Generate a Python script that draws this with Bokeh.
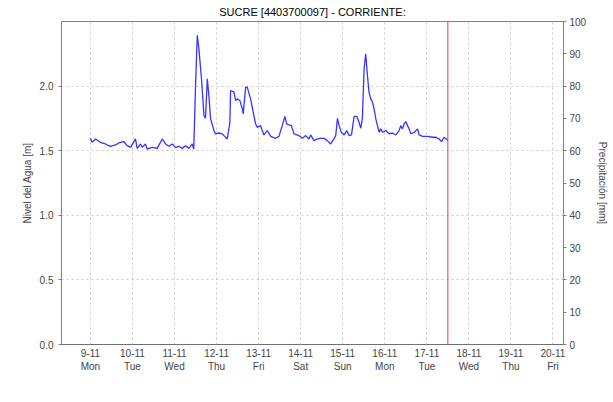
from bokeh.plotting import figure
from bokeh.models import (Range1d, LinearAxis, FixedTicker, Span, Legend,
                          LegendItem, ColumnDataSource)
from bokeh.embed import file_html
from bokeh.resources import INLINE

# ---------------- data ----------------
# hours since 2020-11-09 00:00
sensor_hours = [0, 0.95, 2.9, 3.8, 5.7, 8.6, 11.4, 14.3, 16.2, 19.0, 21.0, 22.9,
                25.7, 26.7, 28.6, 29.5, 31.4, 32.4, 35.2, 38.1, 41.0, 42.9, 44.8,
                46.7, 48.6, 50.5, 52.4, 54.3, 56.2, 58.1, 59.0, 60.0, 61.0, 61.9,
                62.9, 63.4, 64.8, 65.7, 66.7, 67.6, 68.6, 70.5, 71.4, 73.3, 75.2,
                76.2, 78.1, 79.6, 80.0, 81.9, 82.9, 83.8, 85.3, 86.7, 87.2, 88.6,
                89.5, 91.4, 93.3, 94.3, 95.2, 97.1, 99.0, 101.0, 102.9, 105.7,
                107.6, 109.5, 111.0, 112.0, 113.3, 114.7, 116.2, 119.0, 121.0,
                122.9, 124.8, 125.7, 127.6, 129.5, 131.4, 133.3, 135.2, 137.1,
                139.0, 140.0, 141.0, 141.9, 143.2, 144.8, 146.3, 147.6, 149.0,
                150.5, 152.0, 153.3, 154.3, 155.2, 156.2, 157.1, 158.1, 159.0,
                160.0, 161.0, 161.9, 162.9, 163.8, 164.8, 165.7, 166.7, 168.6,
                170.5, 172.4, 174.3, 176.2, 177.1, 178.1, 179.0, 180.0, 181.0,
                181.9, 182.9, 184.8, 186.7, 187.6, 189.5, 192.4, 195.2, 197.1,
                199.0, 200.4, 201.9, 203.4, 204.0]
sensor_level = [1.596, 1.565, 1.591, 1.583, 1.565, 1.552, 1.534, 1.545, 1.560,
                1.571, 1.539, 1.526, 1.591, 1.518, 1.552, 1.526, 1.552, 1.513,
                1.526, 1.518, 1.591, 1.552, 1.534, 1.552, 1.526, 1.534, 1.518,
                1.539, 1.518, 1.552, 1.513, 2.005, 2.393, 2.290, 2.134, 2.057,
                1.772, 1.751, 2.057, 1.927, 1.746, 1.656, 1.630, 1.637, 1.630,
                1.617, 1.591, 1.720, 1.966, 1.953, 1.888, 1.901, 1.888, 1.824,
                1.785, 1.992, 1.992, 1.901, 1.772, 1.707, 1.681, 1.694, 1.622,
                1.656, 1.611, 1.596, 1.611, 1.694, 1.766, 1.707, 1.699, 1.694,
                1.630, 1.617, 1.596, 1.617, 1.591, 1.622, 1.578, 1.591, 1.596,
                1.596, 1.578, 1.552, 1.591, 1.617, 1.751, 1.694, 1.643, 1.622,
                1.656, 1.617, 1.622, 1.766, 1.766, 1.720, 1.674, 1.746, 2.134,
                2.250, 2.083, 1.953, 1.901, 1.876, 1.824, 1.746, 1.694, 1.643,
                1.669, 1.643, 1.656, 1.630, 1.637, 1.622, 1.656, 1.694, 1.669,
                1.707, 1.725, 1.694, 1.669, 1.630, 1.643, 1.669, 1.622, 1.611,
                1.611, 1.604, 1.604, 1.591, 1.570, 1.604, 1.586, 1.578]

historic_hours = [-16.5, 270.0]
historic_level = [0.0, 0.0]

# daily precipitation (all zero in the period shown)
precip_obs_hours = [0, 24, 48, 72, 96, 120, 144, 168, 192]
precip_obs_mm = [0, 0, 0, 0, 0, 0, 0, 0, 0]
precip_pro_hours = [216, 240, 264]
precip_pro_mm = [0, 0, 0]

now_hour = 204.0

tick_dates = ["9-11", "10-11", "11-11", "12-11", "13-11", "14-11", "15-11",
              "16-11", "17-11", "18-11", "19-11", "20-11"]
tick_days = ["Mon", "Tue", "Wed", "Thu", "Fri", "Sat", "Sun", "Mon", "Tue",
             "Wed", "Thu", "Fri"]
tick_hours = [24 * i for i in range(len(tick_dates))]

FONT = "Liberation Sans"

p = figure(frame_width=502, frame_height=323, output_backend="svg",
           toolbar_location=None,
           x_range=Range1d(-16.5, 270.0), y_range=Range1d(0, 2.5),
           min_border_left=61, min_border_right=50, min_border_top=0,
           min_border_bottom=0)
p.extra_y_ranges = {"precip": Range1d(0, 100)}

p.title.text = "SUCRE [4403700097] - CORRIENTE:"
p.title.align = "center"
p.title.text_font = FONT
p.title.text_font_size = "11px"
p.title.text_font_style = "normal"
p.title.text_color = "#000000"
p.title.offset = 0
p.title.standoff = 7

p.outline_line_color = "#808080"
p.outline_line_width = 1

# axes
xa = p.xaxis[0]
xa.ticker = FixedTicker(ticks=tick_hours)
xa.major_label_overrides = {h: f"{d}\n{w}" for h, d, w in zip(tick_hours, tick_dates, tick_days)}
xa.axis_label = None
xa.axis_label_standoff = 0
xa.major_tick_line_color = None
xa.major_tick_out = 0
xa.major_tick_in = 0
xa.minor_tick_line_color = None
xa.axis_line_color = None
xa.major_label_text_font = FONT
xa.major_label_text_font_size = "10px"
xa.major_label_standoff = 3

ya = p.yaxis[0]
ya.ticker = FixedTicker(ticks=[0, 0.5, 1.0, 1.5, 2.0])
ya.major_label_overrides = {0: "0.0", 0.5: "0.5", 1.0: "1.0", 1.5: "1.5", 2.0: "2.0"}
ya.axis_label = "Nivel del Agua [m]"
ya.axis_label_text_font = FONT
ya.axis_label_text_font_size = "10px"
ya.axis_label_text_font_style = "normal"
ya.axis_label_standoff = 4
ya.major_label_text_font = FONT
ya.major_label_text_font_size = "10px"
ya.major_label_standoff = 5
ya.axis_line_color = "#808080"
ya.major_tick_line_color = "#808080"
ya.major_tick_in = 0
ya.major_tick_out = 3
ya.minor_tick_line_color = None

ra = LinearAxis(y_range_name="precip", ticker=FixedTicker(ticks=list(range(0, 101, 10))))
ra.axis_label = "Precipitación [mm]"
ra.axis_label_text_font = FONT
ra.axis_label_text_font_size = "10px"
ra.axis_label_text_font_style = "normal"
ra.axis_label_standoff = 8
ra.major_label_text_font = FONT
ra.major_label_text_font_size = "10px"
ra.major_label_standoff = 3
ra.axis_line_color = "#808080"
ra.major_tick_line_color = "#808080"
ra.major_tick_in = 0
ra.major_tick_out = 3
ra.minor_tick_line_color = None
p.add_layout(ra, "right")

# grids
p.xgrid.ticker = FixedTicker(ticks=tick_hours)
p.xgrid.grid_line_color = "#c8c8c8"
p.xgrid.grid_line_dash = "2 3"
p.ygrid.ticker = FixedTicker(ticks=[0.5, 1.0, 1.5, 2.0])
p.ygrid.grid_line_color = "#c8c8c8"
p.ygrid.grid_line_dash = "2 3"

# glyphs
obs_src = ColumnDataSource(dict(x=precip_obs_hours, top=precip_obs_mm))
pro_src = ColumnDataSource(dict(x=precip_pro_hours, top=precip_pro_mm))
r_obs = p.vbar(x="x", top="top", width=20, source=obs_src, y_range_name="precip",
               fill_color="#80ffff", line_color=None)
r_pro = p.vbar(x="x", top="top", width=20, source=pro_src, y_range_name="precip",
               fill_color="#40c8c8", line_color=None)
r_hist = p.line(historic_hours, historic_level, line_color="#404040",
                line_dash="1 1", line_width=1)
r_sens = p.line(sensor_hours, sensor_level, line_color="#3535ff", line_width=1.3)

p.add_layout(Span(location=now_hour, dimension="height", line_color="#e84040",
                  line_width=1))

legend = Legend(items=[
    LegendItem(label="Nivel Sensor", renderers=[r_sens]),
    LegendItem(label="Nivel Medio Historico", renderers=[r_hist]),
    LegendItem(label="Precipitación Media Obs", renderers=[r_obs]),
    LegendItem(label="Precipitación Media Pro", renderers=[r_pro]),
], orientation="horizontal", location="center")
legend.label_text_font = FONT
legend.label_text_font_size = "11px"
legend.label_height = 12
legend.glyph_width = 14
legend.glyph_height = 12
legend.label_standoff = 3
legend.spacing = 7
legend.padding = 0
legend.margin = 4
legend.border_line_color = None
legend.background_fill_alpha = 0
p.add_layout(legend, "below")

open("out.html", "w").write(file_html(p, INLINE))
